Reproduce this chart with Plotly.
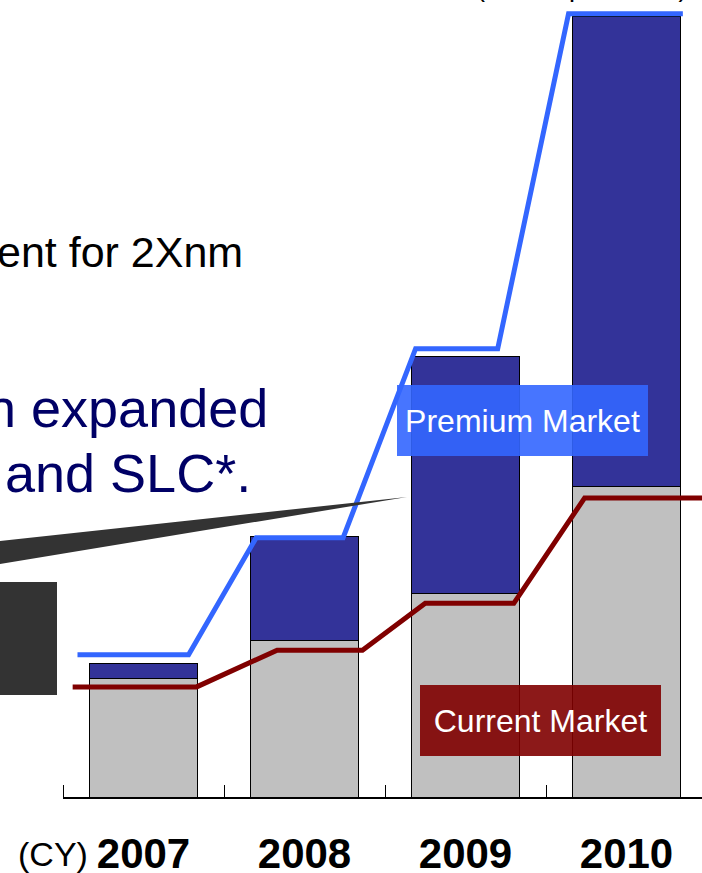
import plotly.graph_objects as go

# ---- data -------------------------------------------------------------
years = ["2007", "2008", "2009", "2010"]
current_bar = [15.2, 20.0, 26.1, 39.7]      # grey part of each column
premium_bar = [1.9, 13.3, 30.3, 60.3]       # blue part stacked on top
premium_level = [18.2, 33.2, 57.4, 100.3]   # premium market trend line
current_level = [14.1, 18.8, 24.8, 38.3]    # current market trend line

# ---- geometry / style -------------------------------------------------
W, H = 702, 873
L, B = 63, 76                 # left / bottom margins (px)
PW, PH = W - L, H - B         # plot area size (px)
CAT_PX = 161                  # pixel width of one year slot
Y_PX = 7.81                   # pixels per value unit
x_range = [-0.5, -0.5 + PW / CAT_PX]
y_range = [0, PH / Y_PX]

# flat stretch of each step line around a year (offsets in slot units)
premium_span = [(-0.41, 0.28), (-0.30, 0.24), (-0.31, 0.20), (-0.36, 0.35)]
current_span = [(-0.44, 0.33), (-0.17, 0.36), (-0.25, 0.30), (-0.26, 0.47)]

FONT = "Liberation Sans, Arial, sans-serif"


def px_x(p):
    return (p - L) / PW


def px_y(p):
    return (PH - p) / PH


def step_path(levels, spans):
    xs, ys = [], []
    for i, (lvl, (a, b)) in enumerate(zip(levels, spans)):
        xs += [i + a, i + b]
        ys += [lvl, lvl]
    return xs, ys


idx = list(range(len(years)))

fig = go.Figure()
fig.add_trace(go.Bar(x=idx, y=current_bar, width=0.67,
                     marker=dict(color="#C0C0C0", line=dict(color="black", width=1))))
fig.add_trace(go.Bar(x=idx, y=premium_bar, width=0.67,
                     marker=dict(color="#333399", line=dict(color="black", width=1))))

px_, py_ = step_path(premium_level, premium_span)
fig.add_trace(go.Scatter(x=px_, y=py_, mode="lines",
                         line=dict(color="#3366FF", width=5)))
cx_, cy_ = step_path(current_level, current_span)
fig.add_trace(go.Scatter(x=cx_, y=cy_, mode="lines",
                         line=dict(color="#800000", width=5)))

shapes = [
    # callout block on the left
    dict(type="rect", xref="paper", yref="paper",
         x0=px_x(-5), x1=px_x(57), y0=px_y(695), y1=px_y(582),
         fillcolor="#333333", line=dict(width=0), layer="above"),
    # callout pointer
    dict(type="path", xref="paper", yref="paper",
         path=f"M {px_x(-5)},{px_y(541.5)} L {px_x(407)},{px_y(497)} "
              f"L {px_x(-5)},{px_y(564.8)} Z",
         fillcolor="#333333", line=dict(width=0), layer="above"),
]

annotations = [
    dict(text="Premium Market", xref="paper", yref="paper",
         x=px_x(522.5), y=px_y(420.5), xanchor="center", yanchor="middle",
         width=251, height=71, borderpad=0, borderwidth=0,
         bgcolor="rgba(51,102,255,0.9)", showarrow=False,
         font=dict(family=FONT, size=32, color="white")),
    dict(text="Current Market", xref="paper", yref="paper",
         x=px_x(540.5), y=px_y(720.5), xanchor="center", yanchor="middle",
         width=241, height=71, borderpad=0, borderwidth=0,
         bgcolor="rgba(128,0,0,0.9)", showarrow=False,
         font=dict(family=FONT, size=32, color="white")),
    dict(text="ent for 2Xnm", xref="paper", yref="paper",
         x=px_x(243), y=px_y(252.1), xanchor="right", yanchor="middle",
         showarrow=False, borderpad=0, borderwidth=0,
         font=dict(family=FONT, size=43, color="black")),
    dict(text="n expanded", xref="paper", yref="paper",
         x=px_x(268), y=px_y(408.3), xanchor="right", yanchor="middle",
         showarrow=False, borderpad=0, borderwidth=0,
         font=dict(family=FONT, size=54, color="#000066")),
    dict(text="and SLC*.", xref="paper", yref="paper",
         x=px_x(251), y=px_y(473.3), xanchor="right", yanchor="middle",
         showarrow=False, borderpad=0, borderwidth=0,
         font=dict(family=FONT, size=54, color="#000066")),
    dict(text="(Our Expectation)", xref="paper", yref="paper",
         x=px_x(476), y=px_y(-12.7), xanchor="left", yanchor="middle",
         showarrow=False, borderpad=0, borderwidth=0,
         font=dict(family=FONT, size=27, color="black")),
    dict(text="(CY)", xref="paper", yref="paper",
         x=px_x(88), y=px_y(854), xanchor="right", yanchor="middle",
         showarrow=False, borderpad=0, borderwidth=0,
         font=dict(family=FONT, size=34, color="black")),
]

fig.update_layout(
    width=W, height=H,
    margin=dict(l=L, r=0, t=0, b=B, pad=0),
    paper_bgcolor="white", plot_bgcolor="white",
    barmode="stack", bargap=0.33, showlegend=False,
    shapes=shapes, annotations=annotations,
    xaxis=dict(range=x_range, tickmode="array", tickvals=idx, ticktext=years,
               ticks="", showgrid=False, zeroline=False, automargin=False,
               showline=True, linecolor="black", linewidth=2,
               ticklabelstandoff=19,
               tickfont=dict(family=FONT, size=42, color="black", weight="bold"),
               minor=dict(tickmode="array", tickvals=[-0.5, 0.5, 1.5, 2.5],
                          ticks="inside", ticklen=12, tickwidth=1,
                          tickcolor="black", showgrid=False)),
    yaxis=dict(range=y_range, visible=False, showgrid=False, zeroline=False),
)

fig.write_html("out.html", config=dict(displayModeBar=False))
